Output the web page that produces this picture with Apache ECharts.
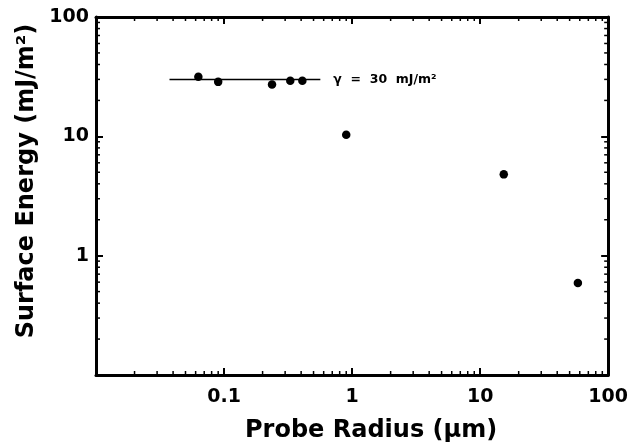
<!DOCTYPE html>
<html><head><meta charset="utf-8">
<script src="https://cdn.jsdelivr.net/npm/echarts@6/dist/echarts.min.js"></script>
<style>html,body{margin:0;padding:0;background:#fff}#c{width:631px;height:448px}</style>
</head><body><div id="c"></div>
<script>
// Data (probe radius in µm, surface energy in mJ/m²)
const probeRadius = [0.063, 0.090, 0.237, 0.329, 0.409, 0.90, 15.3, 58];
const surfaceEnergy = [31.5, 28.6, 27.2, 29.2, 29.2, 10.3, 4.8, 0.59];
const fitLineX = [0.0375, 0.565];
const fitLineY = [30, 30];
const fitLabel = 'γ  =  30  mJ/m²';
const xTickLabels = ['0.1', '1', '10', '100'];
const yTickLabels = ['1', '10', '100'];
const xRange = [0.01, 100];
const yRange = [0.1, 100];
const minorMultipliers = [2, 3, 4, 5, 6, 7, 8, 9];

function minors(lo, hi) {
  const out = [];
  for (let d = lo; d < hi - 1e-12; d *= 10)
    minorMultipliers.forEach(m => out.push(+(d * m).toPrecision(3)));
  return out;
}
const xMinors = minors(xRange[0], xRange[1]);
const yMinors = minors(yRange[0], yRange[1]);

const font = '"DejaVu Sans", Verdana, sans-serif';
function fmt(list) {
  return v => { const s = String(Number(v.toPrecision(3))); return list.includes(s) ? s : ''; };
}
const chart = echarts.init(document.getElementById('c'), null, {renderer: 'canvas'});
const axisLine = {show: true, lineStyle: {color: '#000', width: 3}};
const majorTick = {show: true, inside: true, length: 7, lineStyle: {color: '#000', width: 2}};
chart.setOption({
  animation: false,
  backgroundColor: '#fff',
  grid: {left: 96, right: 19, top: 17, bottom: 65},
  xAxis: [
    {type: 'log', logBase: 10, min: xRange[0], max: xRange[1], position: 'bottom',
     axisLine, axisTick: majorTick, splitLine: {show: false},
     axisLabel: {formatter: fmt(xTickLabels), margin: 13, color: '#000', fontFamily: font, fontWeight: 'bold', fontSize: 19},
     name: 'Probe Radius (µm)', nameLocation: 'middle', nameGap: 44,
     nameTextStyle: {color: '#000', fontFamily: font, fontWeight: 'bold', fontSize: 24, padding: [0, 0, 0, 38]}},
    {type: 'log', logBase: 10, min: xRange[0], max: xRange[1], position: 'top',
     axisLine, axisTick: majorTick, axisLabel: {show: false}, splitLine: {show: false}}
  ],
  yAxis: [
    {type: 'log', logBase: 10, min: yRange[0], max: yRange[1], position: 'left',
     axisLine, axisTick: majorTick, splitLine: {show: false},
     axisLabel: {formatter: fmt(yTickLabels), margin: 7, color: '#000', fontFamily: font, fontWeight: 'bold', fontSize: 19},
     name: 'Surface Energy (mJ/m²)', nameLocation: 'middle', nameGap: 56,
     nameTextStyle: {color: '#000', fontFamily: font, fontWeight: 'bold', fontSize: 24, padding: [0, 0, 0, 30]}},
    {type: 'log', logBase: 10, min: yRange[0], max: yRange[1], position: 'right',
     axisLine, axisTick: majorTick, axisLabel: {show: false}, splitLine: {show: false}}
  ],
  series: [
    {type: 'custom', xAxisIndex: 0, yAxisIndex: 0, silent: true, clip: false,
     data: xMinors.map(v => [v, 1]),
     renderItem: (params, api) => {
       const cs = params.coordSys;
       const x = api.coord([api.value(0), 1])[0];
       const b = cs.y + cs.height;
       const st = {stroke: '#000', lineWidth: 1.5};
       return {type: 'group', children: [
         {type: 'line', shape: {x1: x, y1: b, x2: x, y2: b - 4}, style: st},
         {type: 'line', shape: {x1: x, y1: cs.y, x2: x, y2: cs.y + 4}, style: st}
       ]};
     }},
    {type: 'custom', xAxisIndex: 0, yAxisIndex: 0, silent: true, clip: false,
     data: yMinors.map(v => [1, v]),
     renderItem: (params, api) => {
       const cs = params.coordSys;
       const y = api.coord([1, api.value(1)])[1];
       const r = cs.x + cs.width;
       const st = {stroke: '#000', lineWidth: 1.5};
       return {type: 'group', children: [
         {type: 'line', shape: {x1: cs.x, y1: y, x2: cs.x + 4, y2: y}, style: st},
         {type: 'line', shape: {x1: r, y1: y, x2: r - 4, y2: y}, style: st}
       ]};
     }},
    {type: 'line', xAxisIndex: 0, yAxisIndex: 0, symbol: 'none',
     data: fitLineX.map((x, i) => [x, fitLineY[i]]),
     lineStyle: {color: '#000', width: 1.5},
     endLabel: {show: true, formatter: fitLabel, distance: 13, color: '#000',
       fontFamily: font, fontWeight: 'bold', fontSize: 12.5}},
    {type: 'scatter', xAxisIndex: 0, yAxisIndex: 0, symbol: 'circle', symbolSize: 8.5,
     itemStyle: {color: '#000', opacity: 1},
     data: probeRadius.map((x, i) => [x, surfaceEnergy[i]])}
  ]
});
</script></body></html>
